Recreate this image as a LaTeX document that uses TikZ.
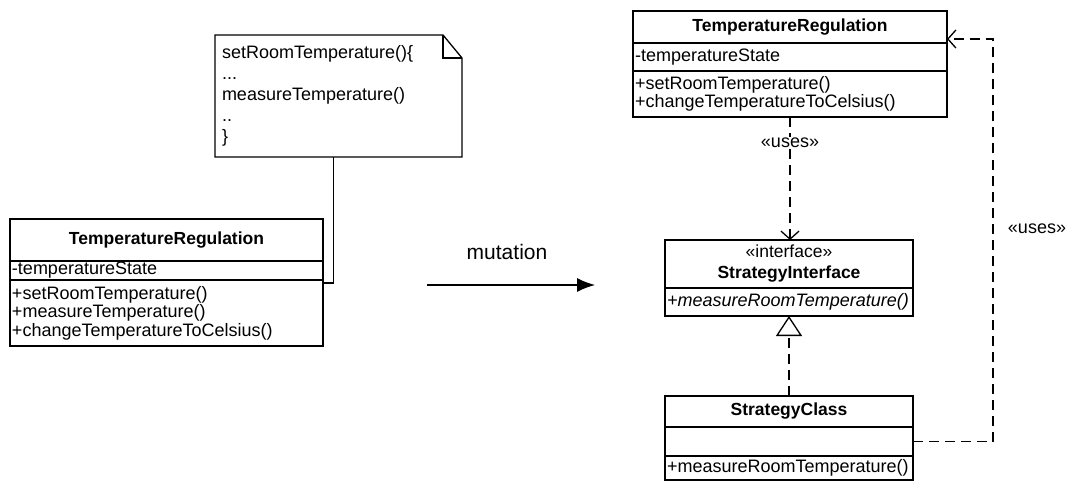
\documentclass[tikz,border=0pt]{standalone}
\usepackage{fontspec}
\setmainfont{Liberation Sans}
\usetikzlibrary{positioning,arrows.meta}

\begin{document}
\begin{tikzpicture}[x=1pt,y=-1pt,
		font=\fontsize{18}{18.5}\selectfont,
		line width=1.3pt,
		classhead/.style={draw, outer sep=0pt, inner sep=0pt, minimum width=#1,
			font=\fontsize{17.5}{21}\selectfont\bfseries, align=center},
		classpart/.style={draw, outer sep=0pt, inner xsep=2pt, inner ysep=0pt,
			text width=#1, align=left},
		usesline/.style={dash pattern=on 10pt off 6pt},
		openhead/.style={-{Straight Barb[length=8pt,width=18pt]}}]
		
		\useasboundingbox (0,0) rectangle (1068,484);
		
		% note on the old class
		\node[anchor=north west, minimum width=247pt, minimum height=122pt, inner xsep=7pt,
			outer sep=0pt, text width=233pt, align=left,
			font=\fontsize{18}{21}\selectfont] (note) at (215,35)
			{setRoomTemperature()\{\\...\\measureTemperature()\\..\\\}};
		\draw (note.north west) -- ([xshift=-19pt]note.north east) -- ([yshift=-23pt]note.north east)
			-- (note.south east) -- (note.south west) -- cycle;
		\draw ([xshift=-19pt]note.north east) |- ([yshift=-23pt]note.north east);
		
		% old class
		\node[classhead=313pt, minimum height=42pt, anchor=north west] (Lhead) at (10,219) {TemperatureRegulation};
		\node[classpart=309pt, minimum height=19pt, below=0pt of Lhead] (Lattr) {-temperatureState};
		\node[classpart=309pt, minimum height=66pt, below=0pt of Lattr] (Lops)
			{+setRoomTemperature()\\+measureTemperature()\\+changeTemperatureToCelsius()};
		
		\coordinate (notefoot) at ([xshift=-5pt]note.south);
		\draw (notefoot) |- ([yshift=-3pt]Lattr.south east);
		
		% mutation
		\coordinate (mutA) at (427,285);
		\coordinate (mutB) at (595,285);
		\draw[-{Latex[length=18pt,width=14pt]}] (mutA) -- (mutB);
		\node[font=\fontsize{21}{24}\selectfont] (mutlabel) at (507,252) {mutation};
		
		% new classes
		\node[classhead=314pt, minimum height=32pt, anchor=north west] (Thead) at (633,11) {TemperatureRegulation};
		\node[classpart=310pt, minimum height=28pt, below=0pt of Thead] (Tattr) {-temperatureState};
		\node[classpart=310pt, minimum height=46pt, below=0pt of Tattr] (Tops)
			{+setRoomTemperature()\\+changeTemperatureToCelsius()};
		
		\node[classhead=248pt, minimum height=48pt, anchor=north west] (Ihead) at (665,240)
			{{\mdseries «interface»}\\StrategyInterface};
		\node[classpart=244pt, minimum height=28pt, below=0pt of Ihead] (Iops)
			{\itshape +measureRoomTemperature()};
		
		\node[classhead=248pt, minimum height=31pt, anchor=north west] (Shead) at (665,396) {StrategyClass};
		\node[classpart=244pt, minimum height=29pt, below=0pt of Shead] (Sattr) {};
		\node[classpart=244pt, minimum height=24pt, below=0pt of Sattr] (Sops) {+measureRoomTemperature()};
		
		% connectors
		\draw[usesline, openhead] (Tops.south) -- (Tops.south |- Ihead.north)
			node[pos=0.21, fill=white, inner sep=1pt] (usesA) {«uses»};
		\draw[usesline, -{Triangle[open, length=20pt, width=26pt]}] (Shead.north) -- (Iops.south);
		
		\coordinate (usebend) at (993,39);
		\draw[usesline, openhead] (Sattr.east) -| (usebend) -- (usebend -| Thead.east);
		\node (usesB) at (1037,229) {«uses»};
		
	\end{tikzpicture}
\end{document}
